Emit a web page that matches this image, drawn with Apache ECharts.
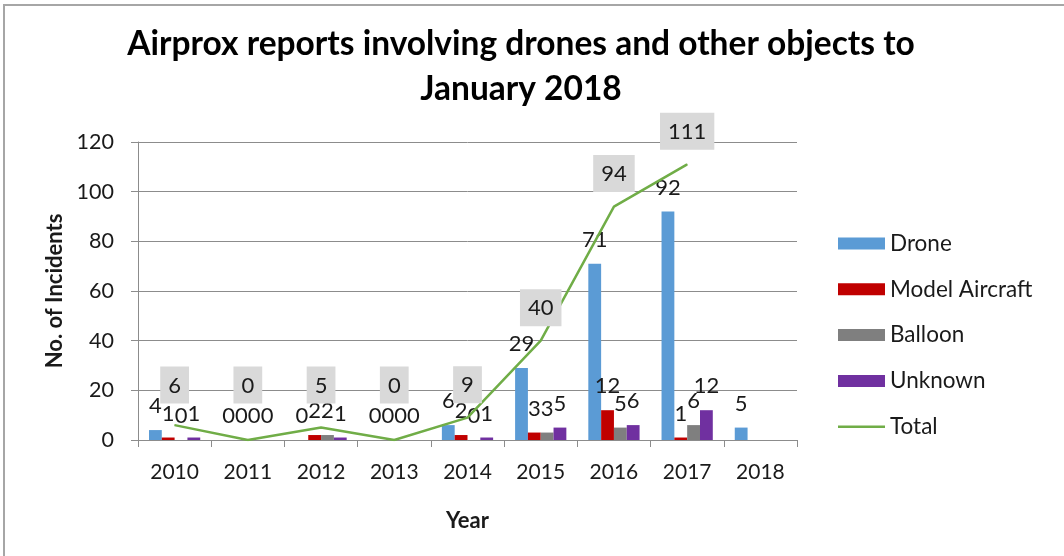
<!DOCTYPE html>
<html>
<head>
<meta charset="utf-8">
<script src="https://cdn.jsdelivr.net/npm/echarts@6/dist/echarts.min.js"></script>
<style>
  html, body { margin: 0; padding: 0; background: #ffffff; }
  #chart { width: 1064px; height: 556px; }
</style>
</head>
<body>
<div id="chart"></div>
<script>
// Airprox reports by year and object type
const years = ['2010', '2011', '2012', '2013', '2014', '2015', '2016', '2017', '2018'];
const drone = [4, 0, 0, 0, 6, 29, 71, 92, 5];
const modelAircraft = [1, 0, 2, 0, 2, 3, 12, 1, null];
const balloon = [0, 0, 2, 0, 0, 3, 5, 6, null];
const unknown = [1, 0, 1, 0, 1, 5, 6, 12, null];
const total = [6, 0, 5, 0, 9, 40, 94, 111, null];
const yTicks = [0, 20, 40, 60, 80, 100, 120];

const FONT = 'Lato, Carlito, "Open Sans", sans-serif';
const TEXT = '#1a1a1a';
const GRID = '#8c8c8c';

const barLabel = {
  show: true,
  position: 'top',
  distance: 13,
  fontFamily: FONT,
  fontSize: 22,
  color: TEXT
};

function barSeries(name, data, color) {
  return {
    name: name,
    type: 'bar',
    data: data,
    barGap: 0,
    barCategoryGap: '30%',
    itemStyle: { color: color },
    label: barLabel
  };
}

const chart = echarts.init(document.getElementById('chart'), null, { renderer: 'canvas' });

chart.setOption({
  animation: false,
  backgroundColor: '#ffffff',
  title: {
    text: 'Airprox reports involving drones and other objects to\nJanuary 2018',
    left: 516,
    top: 17,
    textAlign: 'center',
    textStyle: {
      fontFamily: FONT,
      fontWeight: 'bold',
      fontSize: 33.5,
      lineHeight: 45,
      color: '#000000'
    }
  },
  graphic: [{
    type: 'rect',
    shape: { x: 4, y: 5, width: 1200, height: 700 },
    style: { fill: 'none', stroke: '#a6a6a6', lineWidth: 2 },
    silent: true
  }],
  legend: {
    orient: 'vertical',
    left: 838,
    top: 232,
    padding: 0,
    itemWidth: 47,
    itemHeight: 12,
    itemGap: 22.8,
    textStyle: { fontFamily: FONT, fontSize: 22.5, lineHeight: 22, color: TEXT },
    data: [
      { name: 'Drone', icon: 'rect' },
      { name: 'Model Aircraft', icon: 'rect' },
      { name: 'Balloon', icon: 'rect' },
      { name: 'Unknown', icon: 'rect' },
      // thin horizontal stroke for the line series
      { name: 'Total', icon: 'path://M0,0 M47,12 M0,4.8 L47,4.8 L47,7.2 L0,7.2 Z' }
    ]
  },
  grid: { left: 138, top: 142, width: 659, height: 298, containLabel: false },
  xAxis: {
    type: 'category',
    data: years,
    name: 'Year',
    nameLocation: 'middle',
    nameGap: 70,
    nameTextStyle: { fontFamily: FONT, fontWeight: 'bold', fontSize: 22, color: TEXT },
    axisLine: { lineStyle: { color: GRID, width: 1 } },
    axisTick: { show: true, length: 7, alignWithLabel: false, lineStyle: { color: GRID } },
    axisLabel: { fontFamily: FONT, fontSize: 21, color: TEXT, margin: 22 }
  },
  yAxis: {
    type: 'value',
    min: yTicks[0],
    max: yTicks[yTicks.length - 1],
    interval: yTicks[1] - yTicks[0],
    name: 'No. of Incidents',
    nameLocation: 'middle',
    nameRotate: 90,
    nameGap: 72,
    nameTextStyle: { fontFamily: FONT, fontWeight: 'bold', fontSize: 22, color: TEXT },
    axisLine: { show: true, lineStyle: { color: GRID, width: 1 } },
    axisTick: { show: true, length: 7, lineStyle: { color: GRID } },
    splitLine: { show: true, lineStyle: { color: GRID, width: 1 } },
    axisLabel: { fontFamily: FONT, fontSize: 21.5, color: TEXT, margin: 24 }
  },
  series: [
    barSeries('Drone', drone, '#5b9bd5'),
    barSeries('Model Aircraft', modelAircraft, '#c00000'),
    barSeries('Balloon', balloon, '#7f7f7f'),
    barSeries('Unknown', unknown, '#7030a0'),
    {
      name: 'Total',
      type: 'line',
      data: total,
      symbol: 'circle',
      symbolSize: 1,
      showSymbol: true,
      connectNulls: false,
      z: 5,
      lineStyle: { color: '#70ad47', width: 2.5 },
      itemStyle: { color: '#70ad47' },
      label: {
        show: true,
        position: 'top',
        distance: 14,
        fontFamily: FONT,
        fontSize: 22,
        color: TEXT,
        backgroundColor: '#d9d9d9',
        padding: [8, 8, 7, 8]
      }
    }
  ]
});

// Lift the low total boxes so they sit clear of the bar value labels:
// a box's bottom edge never goes below the band just above the small bars.
const boxFloor = chart.convertToPixel({ yAxisIndex: 0 }, 14.5);
chart.setOption({
  series: [{
    name: 'Total',
    data: total.map(function (v) {
      if (v == null) return v;
      const py = chart.convertToPixel({ yAxisIndex: 0 }, v);
      return { value: v, label: { distance: Math.max(14, py - boxFloor) } };
    })
  }]
});
</script>
</body>
</html>
